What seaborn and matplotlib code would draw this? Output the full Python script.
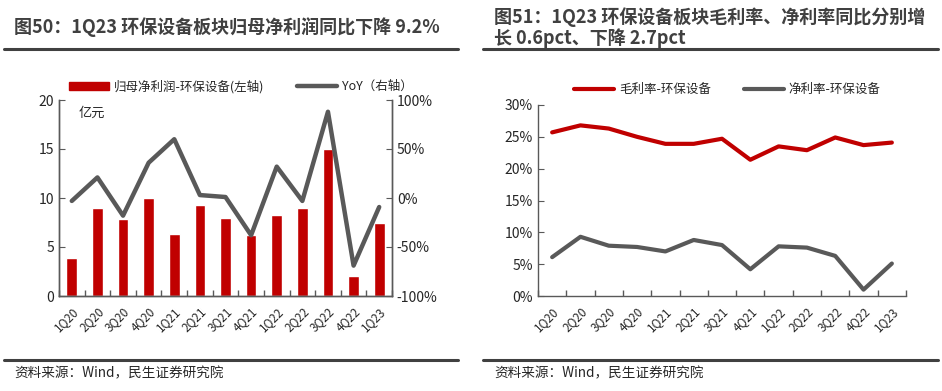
import numpy as np
import pandas as pd
import matplotlib.pyplot as plt
import seaborn as sns
from matplotlib.lines import Line2D
from matplotlib.patches import Patch

# =====================================================
# DATA
# =====================================================

quarters = ["1Q20", "2Q20", "3Q20", "4Q20", "1Q21", "2Q21", "3Q21",
            "4Q21", "1Q22", "2Q22", "3Q22", "4Q22", "1Q23"]

net_profit = [3.9, 9.0, 7.9, 10.0, 6.3, 9.3, 8.0, 6.2, 8.3, 9.0, 15.0, 2.0, 7.5]

yoy = [-3, 21, -18, 36, 60, 3, 1, -38, 32, -3, 88, -69, -9.2]

gross_margin = [25.7, 26.8, 26.3, 25.0, 23.9, 23.9, 24.7, 21.4, 23.5, 22.9, 24.9, 23.7, 24.1]

net_margin = [6.1, 9.3, 7.9, 7.7, 7.0, 8.8, 8.0, 4.2, 7.8, 7.6, 6.3, 1.0, 5.1]

# =====================================================
# STYLE
# =====================================================

sns.set_style("ticks")
plt.rcParams["font.family"] = ["Noto Sans CJK SC", "DejaVu Sans"]

RED = "#C00000"
GRAY = "#595959"
TITLE = "#404040"
SPINE = "#595959"
TEXT = "#262626"

W, H = 942, 391
fig = plt.figure(figsize=(W / 100, H / 100), dpi=100)


def fx(px):
    return px / W


def fy(py):
    return 1 - py / H


df = pd.DataFrame({
    "pos": np.arange(len(quarters)),
    "quarter": quarters,
    "profit": net_profit,
    "yoy": np.array(yoy) / 100,
    "gross": np.array(gross_margin) / 100,
    "net": np.array(net_margin) / 100,
})


def style_x(ax):
    ax.set_xlim(-0.5, len(quarters) - 0.5)
    ax.set_xticks(df["pos"])
    ax.set_xticklabels(quarters, rotation=45, ha="right",
                       rotation_mode="anchor", fontsize=8.5, color=TEXT)
    ax.set_xticks(np.arange(len(quarters) + 1) - 0.5, minor=True)
    ax.tick_params(axis="x", which="major", length=0, pad=6)
    ax.tick_params(axis="x", which="minor", length=4, direction="in",
                   color=SPINE, width=1)
    ax.set_xlabel("")


# =====================================================
# LEFT CHART
# =====================================================

ax1 = fig.add_axes([fx(59), fy(296), fx(392 - 59), (296 - 100) / H])

sns.barplot(data=df, x="pos", y="profit", color=RED, width=0.42,
            saturation=1, ax=ax1)
ax1.set_ylim(0, 20)
ax1.set_yticks([0, 5, 10, 15, 20])
ax1.tick_params(axis="y", direction="in", length=4, color=SPINE,
                labelsize=10, labelcolor=TEXT)
ax1.set_ylabel("")
style_x(ax1)

ax1b = ax1.twinx()
sns.lineplot(data=df, x="pos", y="yoy", color=GRAY, linewidth=3.2,
             ax=ax1b)
ax1b.set_ylim(-1, 1)
ax1b.set_yticks([-1, -0.5, 0, 0.5, 1])
ax1b.set_yticklabels(["-100%", "-50%", "0%", "50%", "100%"])
ax1b.tick_params(axis="y", direction="in", length=4, color=SPINE,
                 labelsize=10, labelcolor=TEXT)
ax1b.set_ylabel("")
ax1b.set_xlabel("")
ax1b.set_xlim(-0.5, len(quarters) - 0.5)

for a in (ax1, ax1b):
    a.spines["top"].set_visible(False)
    for s in ("left", "right", "bottom"):
        a.spines[s].set_color(SPINE)
        a.spines[s].set_linewidth(1)

ax1.text(0.06, 0.93, "亿元", transform=ax1.transAxes, fontsize=9.5,
         color=TEXT, va="center")

ax1.legend(
    handles=[Patch(color=RED, label="归母净利润-环保设备(左轴)"),
             Line2D([], [], color=GRAY, linewidth=3.2, label="YoY（右轴）")],
    loc="lower left", bbox_to_anchor=(0.015, 1.01), ncol=2, frameon=False,
    fontsize=9, handlelength=3.2, handleheight=0.6, columnspacing=2.6,
    handletextpad=0.4, borderaxespad=0,
)

# =====================================================
# RIGHT CHART
# =====================================================

ax2 = fig.add_axes([fx(538), fy(296), fx(906 - 538), (296 - 105) / H])

sns.lineplot(data=df, x="pos", y="gross", color=RED, linewidth=3,
             ax=ax2, label="毛利率-环保设备")
sns.lineplot(data=df, x="pos", y="net", color=GRAY, linewidth=3,
             ax=ax2, label="净利率-环保设备")
ax2.set_ylim(0, 0.30)
ax2.set_yticks(np.arange(0, 0.31, 0.05))
ax2.set_yticklabels([f"{v}%" for v in range(0, 31, 5)])
ax2.tick_params(axis="y", direction="in", length=4, color=SPINE,
                labelsize=10, labelcolor=TEXT)
ax2.set_ylabel("")
style_x(ax2)
ax2.spines["top"].set_visible(False)
ax2.spines["right"].set_visible(False)
for s in ("left", "bottom"):
    ax2.spines[s].set_color(SPINE)
    ax2.spines[s].set_linewidth(1)

ax2.legend(loc="lower left", bbox_to_anchor=(0.085, 1.02), ncol=2,
           frameon=False, fontsize=9, handlelength=3.2,
           columnspacing=2.6, handletextpad=0.4, borderaxespad=0)

# =====================================================
# TITLES, RULES AND SOURCES
# =====================================================

fig.text(fx(14), fy(27), "图50：1Q23 环保设备板块归母净利润同比下降 9.2%",
         fontsize=13, fontweight="bold", color=TITLE, va="center")
fig.text(fx(494), fy(17), "图51：1Q23 环保设备板块毛利率、净利率同比分别增",
         fontsize=13, fontweight="bold", color=TITLE, va="center")
fig.text(fx(494), fy(38), "长 0.6pct、下降 2.7pct",
         fontsize=13, fontweight="bold", color=TITLE, va="center")

for x0, x1 in ((4, 458), (483, 938)):
    fig.add_artist(Line2D([fx(x0), fx(x1)], [fy(49), fy(49)],
                          color="#404040", linewidth=2.2))
    fig.add_artist(Line2D([fx(x0), fx(x1)], [fy(360), fy(360)],
                          color="#404040", linewidth=2.2))

fig.text(fx(14), fy(373), "资料来源：Wind，民生证券研究院",
         fontsize=9.8, color=TEXT, va="center")
fig.text(fx(494), fy(373), "资料来源：Wind，民生证券研究院",
         fontsize=9.8, color=TEXT, va="center")

plt.savefig("out.png", dpi=100)
plt.close()
